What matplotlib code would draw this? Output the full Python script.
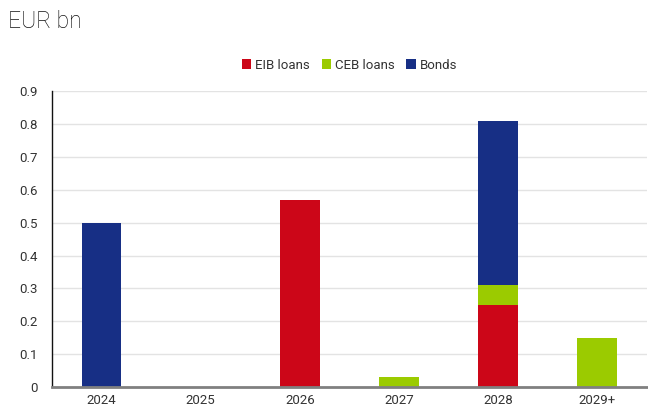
import numpy as np
import matplotlib.pyplot as plt
from matplotlib.ticker import FuncFormatter

# Maturity profile, EUR bn
years = ['2024', '2025', '2026', '2027', '2028', '2029+']
eib_loans = [0.0, 0.0, 0.57, 0.0, 0.25, 0.0]
ceb_loans = [0.0, 0.0, 0.0, 0.03, 0.06, 0.15]
bonds = [0.5, 0.0, 0.0, 0.0, 0.5, 0.0]

colors = {
    'eib': '#cc0618',
    'ceb': '#9bcb00',
    'bonds': '#172f85',
    'grid': '#e3e3e3',
    'text': '#333333',
}

plt.rcParams['font.family'] = ['Roboto', 'DejaVu Sans']

fig = plt.figure(figsize=(6.48, 4.07), dpi=100)
ax = fig.add_axes([0.0802, 0.049, 0.918, 0.727])

x = np.arange(len(years))
eib = np.array(eib_loans)
ceb = np.array(ceb_loans)
bnd = np.array(bonds)
w = 0.4

ax.bar(x, eib, w, color=colors['eib'], label='EIB loans', zorder=3)
ax.bar(x, ceb, w, bottom=eib, color=colors['ceb'], label='CEB loans', zorder=3)
ax.bar(x, bnd, w, bottom=eib + ceb, color=colors['bonds'], label='Bonds', zorder=3)

ax.set_xlim(-0.5, len(years) - 0.5)
ax.set_ylim(0, 0.9)
ax.set_yticks(np.arange(0, 0.91, 0.1))
ax.yaxis.set_major_formatter(FuncFormatter(lambda v, _: '0' if abs(v) < 1e-9 else f'{v:.1f}'))
ax.set_xticks(x)
ax.set_xticklabels(years)

ax.grid(axis='y', color=colors['grid'], linewidth=1, zorder=0)
ax.tick_params(axis='both', length=0, labelsize=9.5, colors=colors['text'])
ax.tick_params(axis='y', pad=10)
ax.tick_params(axis='x', pad=5)

for s in ['top', 'right']:
    ax.spines[s].set_visible(False)
ax.spines['left'].set_color('#111111')
ax.spines['left'].set_linewidth(1)
ax.spines['bottom'].set_color('#808080')
ax.spines['bottom'].set_linewidth(2)
ax.spines['bottom'].set_zorder(4)

fig.text(0.012, 0.948, 'EUR bn', fontsize=16.5, fontweight='light', color='#111111', va='center')

ax.legend(loc='center', bbox_to_anchor=(0.5, 1.088),
          ncol=3, frameon=False, fontsize=9.5, handlelength=0.7, handleheight=0.7,
          handletextpad=0.3, columnspacing=0.9, labelcolor=colors['text'])

fig.savefig('out.png', dpi=100)
